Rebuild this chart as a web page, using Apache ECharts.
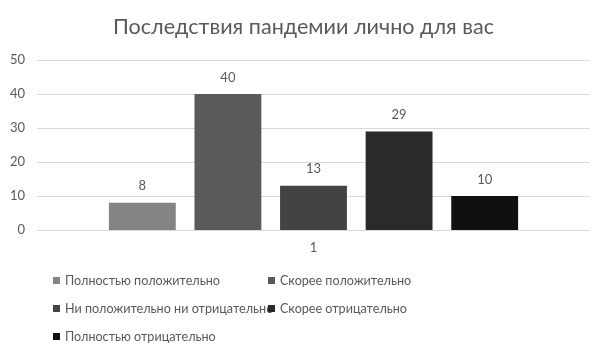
<!DOCTYPE html>
<html><head><meta charset="utf-8">
<script src="https://cdn.jsdelivr.net/npm/echarts@6/dist/echarts.min.js"></script>
<style>html,body{margin:0;padding:0;background:#fff}#c{width:607px;height:360px}</style>
</head><body><div id="c"></div>
<script>
const title = 'Последствия пандемии лично для вас';
const categories = ['1'];
const seriesNames = ['Полностью положительно','Скорее положительно','Ни положительно ни отрицательно','Скорее отрицательно','Полностью отрицательно'];
const seriesValues = [[8],[40],[13],[29],[10]];
const colors = ['#848484','#5a5a5a','#434343','#2a2a2a','#101010'];
const yTicks = [0,10,20,30,40,50];

const font = 'Lato, "Open Sans", sans-serif';
const legendPos = [[53,274],[268,274],[53,302],[268,302],[53,330]];
const chart = echarts.init(document.getElementById('c'));
chart.setOption({
  animation:false,
  color: colors,
  title:{text:title,left:'center',top:11,textStyle:{fontFamily:font,fontSize:21.6,fontWeight:'normal',color:'#595959'}},
  grid:{left:37,right:17,top:60,bottom:130,containLabel:false},
  xAxis:{type:'category',data:categories,axisLine:{show:false},axisTick:{show:false},
    axisLabel:{color:'#595959',fontFamily:font,fontSize:13,margin:11}},
  yAxis:{type:'value',min:yTicks[0],max:yTicks[yTicks.length-1],interval:10,
    axisLine:{show:false},axisTick:{show:false},
    splitLine:{lineStyle:{color:'#d9d9d9',width:1}},
    axisLabel:{color:'#595959',fontFamily:font,fontSize:13,margin:12}},
  legend: seriesNames.map((n,i)=>({data:[n],left:legendPos[i][0],top:legendPos[i][1],itemWidth:7,itemHeight:7,itemGap:4,icon:'rect',padding:0,
    textStyle:{color:'#595959',fontFamily:font,fontSize:12.6}})),
  series: seriesNames.map((n,i)=>({name:n,type:'bar',data:seriesValues[i],barGap:'28%',barCategoryGap:'26%',
    label:{show:true,position:'top',distance:10,color:'#595959',fontFamily:font,fontSize:13}}))
});
</script></body></html>
